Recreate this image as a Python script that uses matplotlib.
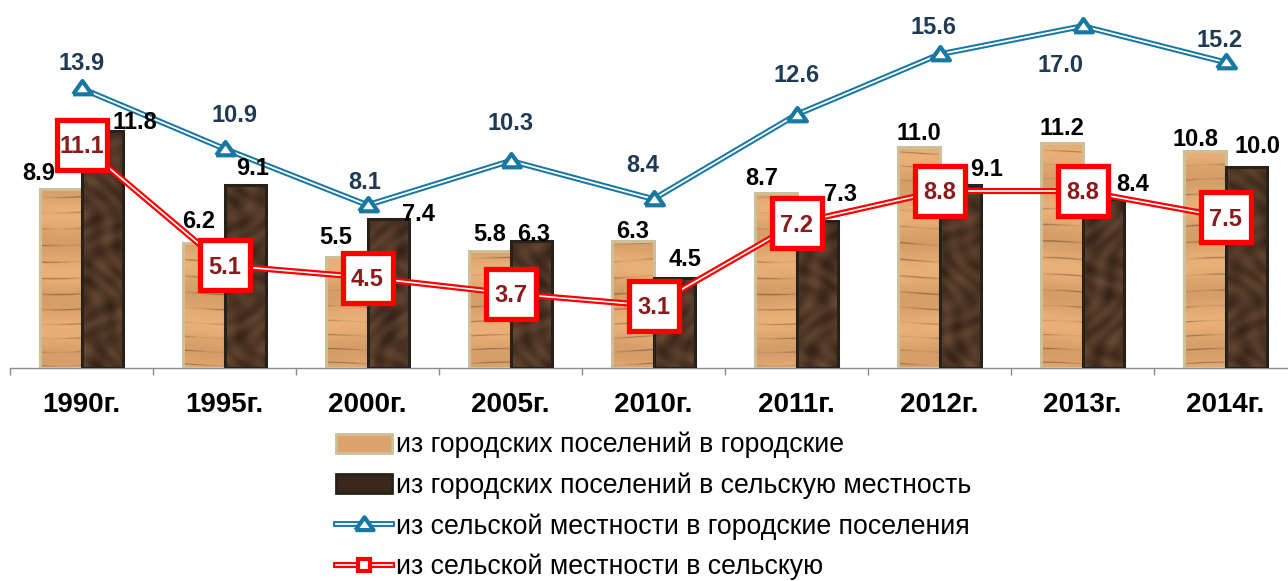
import numpy as np
import matplotlib
matplotlib.use('Agg')
import matplotlib.pyplot as plt
from matplotlib.path import Path
from matplotlib.patches import PathPatch, Patch
from matplotlib.lines import Line2D

# ---------------- data ----------------
years = ['1990г.', '1995г.', '2000г.', '2005г.', '2010г.', '2011г.', '2012г.', '2013г.', '2014г.']
urban_to_urban = [8.9, 6.2, 5.5, 5.8, 6.3, 8.7, 11.0, 11.2, 10.8]
urban_to_rural = [11.8, 9.1, 7.4, 6.3, 4.5, 7.3, 9.1, 8.4, 10.0]
rural_to_urban = [13.9, 10.9, 8.1, 10.3, 8.4, 12.6, 15.6, 17.0, 15.2]
rural_to_rural = [11.1, 5.1, 4.5, 3.7, 3.1, 7.2, 8.8, 8.8, 7.5]
series_names = ['из городских поселений в городские',
                'из городских поселений в сельскую местность',
                'из сельской местности в городские поселения',
                'из сельской местности в сельскую']

# ---------------- style: label offsets (px, label centre vs. mark) ----------------
off_light = [(-22, 17), (-5, 24), (-11, 22), (0, 19), (0, 12), (-14, 16), (0, 15), (0, 16), (-9, 13)]
off_dark = [(33, 10), (7, 18), (30, 7), (2, 9), (11, 20), (23, 29), (26, 17), (29, 17), (11, 22)]
off_blue = [(0, 27), (10, 35), (-3, 25), (0, 39), (-11, 36), (0, 41), (-6, 29), (-22, -37), (-6, 24)]

FONT = ['Liberation Sans', 'DejaVu Sans']
plt.rcParams['font.family'] = FONT

BLUE = '#1778A2'
RED = '#FF0000'
TAN = '#DCA36C'
TAN_EDGE = '#CDBF97'
BROWN = '#3E2A1E'
BROWN_EDGE = '#26221A'

W, H = 1288, 581
fig = plt.figure(figsize=(W / 100, H / 100), dpi=100)
ax_h = 362
ax = fig.add_axes([10 / W, (H - 368) / H, 1287 / W, ax_h / H])
YMAX = 18.0

x = np.arange(len(years))
bw = 0.29
xl = x - bw / 2
xd = x + bw / 2

bars_l = ax.bar(xl, urban_to_urban, bw, color=TAN, edgecolor='none', zorder=2)
bars_d = ax.bar(xd, urban_to_rural, bw, color=BROWN, edgecolor='none', zorder=2)

# textures (purely decorative, deterministic)
ny, nx = ax_h, 1287
yy, xx = np.mgrid[0:ny, 0:nx].astype(float)
s = np.sin(yy * 0.42 + 0.9 * np.sin(xx * 0.035) + 1.6 * np.sin(yy * 0.027))
streak = np.clip(s, 0, 1) ** 16 * (0.6 + 0.4 * np.sin(xx * 0.08 + yy * 0.05))
band = 0.5 + 0.5 * np.sin(yy * 0.11 + 0.5 * np.sin(xx * 0.03))
bright = 1.0 - 0.27 * streak - 0.05 * band
base_l = np.array([0.88, 0.65, 0.43])
tex_l = np.clip(base_l[None, None, :] * bright[..., None] + 0.04 * (1 - band[..., None]), 0, 1)

m = (0.5 + 0.22 * np.sin(xx * 0.23 + 3 * np.sin(yy * 0.07)) * np.sin(yy * 0.19 + 2 * np.sin(xx * 0.06))
     + 0.16 * np.sin((xx + yy) * 0.09) * np.sin((xx - yy) * 0.13))
m = np.clip(m, 0, 1)
dk = np.array([0.17, 0.11, 0.07])
lt = np.array([0.44, 0.31, 0.22])
tex_d = dk[None, None, :] * (1 - m[..., None]) + lt[None, None, :] * m[..., None]


def clip_for(bars):
    paths = [b.get_path().transformed(b.get_patch_transform()) for b in bars]
    pp = PathPatch(Path.make_compound_path(*paths), transform=ax.transData,
                   facecolor='none', edgecolor='none')
    ax.add_patch(pp)
    return pp


for tex, bars in ((tex_l, bars_l), (tex_d, bars_d)):
    im = ax.imshow(tex, extent=(-0.5, 8.5, 0, YMAX), origin='lower', aspect='auto',
                   interpolation='bilinear', zorder=2.5)
    im.set_clip_path(clip_for(bars))

ax.bar(xl, urban_to_urban, bw, fill=False, edgecolor=TAN_EDGE, linewidth=2.2, zorder=3)
ax.bar(xd, urban_to_rural, bw, fill=False, edgecolor=BROWN_EDGE, linewidth=2.2, zorder=3)

tri = [(-1, -0.62), (1, -0.62), (0, 0.8), (-1, -0.62)]

# blue line (double)
ax.plot(x, rural_to_urban, color=BLUE, lw=4.2, zorder=4, solid_joinstyle='miter')
ax.plot(x, rural_to_urban, color='white', lw=1.3, zorder=4.1, solid_joinstyle='miter')
ax.plot(x, rural_to_urban, ls='none', marker=tri, ms=13.5, mfc='white', mec=BLUE, mew=3.0,
        zorder=4.2)

# red line (double)
ax.plot(x, rural_to_rural, color=RED, lw=4.4, zorder=5, solid_joinstyle='miter')
ax.plot(x, rural_to_rural, color='white', lw=1.2, zorder=5.1, solid_joinstyle='miter')
ax.plot(x, rural_to_rural, ls='none', marker='s', ms=36, mfc='white', mec=RED, mew=3.8,
        zorder=5.2)

VFS = 17
half_cap = 0.358 * VFS  # points


def label(xv, yv, txt, off, color, z):
    dx, dy = off
    ax.annotate(txt, xy=(xv, yv), xytext=(dx * 0.72, dy * 0.72 - half_cap),
                textcoords='offset points', ha='center', va='baseline',
                fontsize=VFS, fontweight='bold', color=color, zorder=z,
                annotation_clip=False)


for i in range(len(years)):
    label(xl[i], urban_to_urban[i], f'{urban_to_urban[i]:.1f}', off_light[i], '#000000', 6)
    label(xd[i], urban_to_rural[i], f'{urban_to_rural[i]:.1f}', off_dark[i], '#000000', 6)
    label(x[i], rural_to_urban[i], f'{rural_to_urban[i]:.1f}', off_blue[i], '#1F3A55', 6)
    label(x[i], rural_to_rural[i], f'{rural_to_rural[i]:.1f}', (0, 0), '#8B1A1A', 6)

# axes
ax.set_xlim(-0.5, 8.5)
ax.set_ylim(0, YMAX)
for sp in ('left', 'right', 'top'):
    ax.spines[sp].set_visible(False)
ax.spines['bottom'].set_color('#8C8C8C')
ax.spines['bottom'].set_linewidth(1.0)
ax.set_yticks([])
ax.set_xticks(x)
ax.set_xticklabels(years, fontsize=20, fontweight='bold')
ax.set_xticks(np.arange(-0.5, 9.0, 1.0), minor=True)
ax.tick_params(axis='x', which='major', length=0, pad=17)
ax.tick_params(axis='x', which='minor', length=5, width=1.0, color='#8C8C8C', direction='out')
ax.patch.set_alpha(0)

# legend
h1 = Patch(facecolor=TAN, edgecolor=TAN_EDGE, lw=2)
h2 = Patch(facecolor='#3A281D', edgecolor=BROWN_EDGE, lw=2)
h3 = (Line2D([], [], color=BLUE, lw=4.2), Line2D([], [], color='white', lw=1.3),
      Line2D([], [], ls='none', marker=tri, ms=13, mfc='white', mec=BLUE, mew=3.0))
h4 = (Line2D([], [], color=RED, lw=4.4), Line2D([], [], color='white', lw=1.2),
      Line2D([], [], ls='none', marker='s', ms=9, mfc='white', mec=RED, mew=3))
fig.legend([h1, h2, h3, h4], series_names, loc='upper left',
           bbox_to_anchor=(336 / W, 1 - 432 / H), frameon=False, fontsize=19.2,
           handlelength=2.1, handleheight=0.7, handletextpad=0.15, labelspacing=0.53,
           borderpad=0, borderaxespad=0)

fig.savefig('out.png', dpi=100)
